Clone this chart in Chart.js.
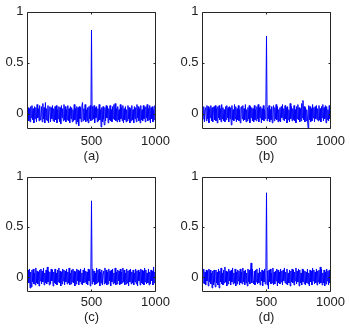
<!DOCTYPE html>
<html>
<head>
<meta charset="utf-8">
<script src="https://cdn.jsdelivr.net/npm/chart.js@4"></script>
<style>
  html, body { margin: 0; padding: 0; background: #fff; }
  #wrap { position: relative; width: 350px; height: 330px; }
  #wrap canvas { position: absolute; }
</style>
</head>
<body>
<div id="wrap">
  <canvas id="plotA" width="175" height="165" style="left:0;top:0"></canvas>
  <canvas id="plotB" width="175" height="165" style="left:175px;top:0"></canvas>
  <canvas id="plotC" width="175" height="165" style="left:0;top:165px"></canvas>
  <canvas id="plotD" width="175" height="165" style="left:175px;top:165px"></canvas>
</div>
<script>
// one sample every 5 steps, 200 samples per signal (5..1000), peak at 500
let sampleStep = 5;

let xTicks = [500, 1000];
let yTicks = [0, 0.5, 1];

let captions = ["(a)", "(b)", "(c)", "(d)"];

let signalA = [
    .06,-.07,.05,-.08,.07,-.04,.08,-.06,.05,-.09,.07,-.05,.06,-.08,.09,-.04,.05,-.07,.08,-.06,
    -.04,.07,-.08,.1,-.05,.06,-.09,.11,-.06,.05,-.07,.08,-.09,.04,.07,-.08,.06,-.05,.08,-.07,
    .05,-.08,.07,-.06,.08,-.09,.04,-.05,.07,-.08,.06,-.1,.08,-.04,.05,-.07,.09,-.06,.07,-.08,
    .04,-.06,.08,-.07,.05,-.09,.07,-.05,.06,-.08,.04,-.07,.09,-.06,.05,-.1,.07,-.08,.06,-.12,
    .07,-.05,.06,-.08,.08,.11,-.07,.05,-.06,.09,-.08,.04,-.07,.06,-.09,.07,-.05,.08,-.07,.82,
    -.06,.07,-.05,.08,-.09,.06,-.04,.07,-.08,.05,-.07,.09,-.06,.04,-.13,.06,-.08,.07,-.05,-.11,
    .06,-.07,.08,-.04,.07,-.09,.05,-.06,.08,-.07,.04,-.08,.07,-.05,.09,-.06,.1,-.07,.05,-.08,
    .07,-.06,.04,-.08,.09,-.05,.06,-.07,.08,-.09,.05,-.06,.07,-.08,.04,-.07,.08,-.05,.06,-.09,
    .05,-.07,.08,-.06,.04,-.09,.07,-.05,.06,-.08,.09,-.04,.07,-.07,.05,-.09,.08,-.06,.04,-.07,
    .08,-.05,.06,-.08,.07,-.04,.09,-.07,.05,-.06,.08,-.09,.06,-.05,.07,-.08,.04,-.06,.08,-.05
];

let signalB = [
    -.05,.07,-.08,.04,.06,-.07,.08,-.05,.07,-.09,.05,-.04,.08,-.07,.06,-.08,.04,.07,-.06,.08,
    -.07,.05,-.09,.07,-.04,.08,-.06,.05,-.08,.09,-.05,.06,-.07,.04,-.08,.07,-.06,.08,-.04,.06,
    -.08,.07,-.05,.06,-.11,.08,-.06,.04,-.07,.09,-.05,.07,-.08,.05,-.06,.08,-.07,.04,-.09,.06,
    .07,-.05,.08,-.07,.05,-.06,.09,-.08,.04,-.07,.06,-.05,.08,-.09,.07,-.04,.06,-.07,.05,-.08,
    .08,-.06,.04,-.07,.07,-.05,.09,-.08,.06,-.04,.07,-.09,.05,-.06,.08,-.07,.04,-.05,.07,.76,
    -.07,.06,-.05,.08,-.08,.04,-.06,.07,-.09,.05,.08,-.07,.06,-.05,.09,-.06,.07,-.08,.04,-.07,
    .06,-.08,.07,-.04,.09,-.06,.05,-.07,.08,-.05,.06,-.09,.07,-.06,.04,-.08,.1,-.05,.07,-.07,
    .05,-.06,.08,-.07,.04,-.09,.07,-.05,.09,-.06,.06,-.08,.05,-.07,.1,-.04,.13,-.06,.07,-.08,
    .06,-.07,.04,-.05,-.14,.08,-.06,.07,-.08,.05,-.07,.09,-.04,.06,-.08,.07,-.05,.08,-.06,.05,
    -.07,.08,-.06,.05,-.08,.07,-.04,.09,-.07,.06,-.05,.08,-.09,.07,-.06,.04,-.07,.08,-.05,.06
];

let signalC = [
    .07,-.06,.08,-.11,.05,-.1,.07,-.05,.08,-.07,.04,-.08,.09,-.06,.06,-.07,.05,-.09,.07,-.04,
    .08,-.07,.06,-.05,.09,-.08,.04,-.06,.07,-.07,.1,-.05,.06,-.08,.05,-.07,.08,-.04,.07,-.09,
    .05,-.06,.08,-.07,.04,-.08,.07,-.05,.09,-.06,.06,-.09,.05,-.07,.08,-.04,.07,-.08,.06,-.05,
    .08,-.07,.05,-.06,.09,-.08,.04,-.07,.07,-.05,.08,-.06,.06,-.09,.05,-.07,.08,-.04,.07,-.08,
    .06,-.05,.08,-.07,.04,-.08,.07,-.06,.09,-.05,.06,-.07,.05,-.08,.08,-.04,.07,-.09,.06,.76,
    -.07,.08,-.05,.06,-.08,.04,-.07,.09,-.06,.07,-.05,.08,-.09,.05,-.06,.07,-.08,.04,.06,-.07,
    .09,-.06,.07,-.08,.05,-.07,.08,-.04,.06,-.09,.07,-.05,.08,-.07,.04,-.06,.09,-.08,.05,-.07,
    .07,-.04,.06,-.08,.08,-.07,.05,-.06,.09,-.05,.07,-.08,.04,-.07,.08,-.06,.06,-.09,.07,-.05,
    .08,-.07,.05,-.06,.07,-.08,.04,-.05,.08,-.07,.06,-.09,.07,-.04,.05,-.08,.08,-.06,.07,-.07,
    .06,-.08,.09,-.05,.07,-.07,.04,-.06,.08,-.08,.05,-.07,.07,-.04,.06,-.08,.1,-.06,.05,-.07
];

let signalD = [
    -.06,.08,-.07,.05,-.08,.07,-.04,.06,-.09,.08,-.05,.07,-.07,.04,-.11,.06,-.08,.07,-.05,-.1,
    .07,-.06,.05,-.08,.08,-.11,.06,-.05,.09,-.07,.04,-.08,.07,-.06,.1,-.05,.06,-.09,.05,-.07,
    .08,-.04,.06,-.08,.07,-.05,.09,-.07,.04,-.06,.08,-.09,.05,-.07,.07,-.04,.06,-.08,.08,-.06,
    .05,-.07,.09,-.05,.06,-.08,.07,-.06,.04,-.09,.08,-.05,.07,-.07,.05,.14,-.06,.08,-.04,-.07,
    .06,-.08,.07,-.05,.08,-.07,.04,-.06,.09,-.08,.05,-.04,.07,-.09,.06,-.05,.08,-.07,.04,.84,
    -.08,.06,-.12,.07,-.05,.08,-.07,.04,-.06,.09,-.08,.05,-.07,.06,-.04,.08,-.09,.07,-.06,.05,
    -.07,.08,-.05,.06,-.08,.07,-.04,.09,-.06,.05,-.07,.08,-.08,.04,-.06,.07,-.09,.06,-.05,.08,
    -.06,.07,-.08,.05,-.04,.09,-.07,.06,-.05,.08,-.09,.07,-.06,.04,-.08,.08,-.05,.07,-.07,.06,
    -.08,.05,-.06,.08,-.07,.04,-.09,.07,-.05,.06,-.08,.09,-.04,.07,-.07,.05,-.06,.08,-.08,.06,
    -.05,.07,-.07,.1,-.06,.08,-.08,.04,-.06,.07,-.09,.05,-.07,.08,-.04,.06,-.08,.07,-.06,.08
];

let signals = [signalA, signalB, signalC, signalD];

// top row and bottom row differ slightly in spacing
let rowLayout = [
    { axisHeight: 36, tickPad: 5, titlePad: 1 },
    { axisHeight: 38, tickPad: 3, titlePad: 5 }
];

// matlab style frame: box round the plot area with short inward ticks
let boxPlugin = {
    id: "box",
    afterDraw(chart){
        let ctx = chart.ctx;
        let a = chart.chartArea;
        let x = chart.scales.x;
        let y = chart.scales.y;
        let t = 2;

        let left = Math.floor(a.left) + 0.5;
        let right = Math.floor(a.right) + 0.5;
        let top = Math.round(a.top) + 0.5;
        let bottom = Math.round(a.bottom) - 0.5;

        ctx.save();
        ctx.strokeStyle = "#262626";
        ctx.lineWidth = 1;
        ctx.beginPath();

        ctx.rect(left, top, right - left, bottom - top);

        for(let i = 0; i < yTicks.length; i++){
            let py = Math.round(y.getPixelForValue(yTicks[i])) + 0.5;
            ctx.moveTo(left, py);
            ctx.lineTo(left + t, py);
            ctx.moveTo(right, py);
            ctx.lineTo(right - t, py);
        }

        for(let i = 0; i < xTicks.length; i++){
            let px = Math.floor(x.getPixelForValue(xTicks[i])) + 0.5;
            ctx.moveTo(px, bottom);
            ctx.lineTo(px, bottom - t);
            ctx.moveTo(px, top);
            ctx.lineTo(px, top + t);
        }

        ctx.stroke();
        ctx.restore();
    }
};

let font = { family: "'Liberation Sans', Arial, sans-serif", size: 13 };

function createPlot(id, values, caption, row){

    let ctx = document.getElementById(id).getContext("2d");
    let lay = rowLayout[row];

    return new Chart(ctx, {
        type: 'line',
        data: {
            datasets: [{
                data: values.map((v, i) => ({ x: (i + 1) * sampleStep, y: v })),
                borderColor: '#0000ff',
                borderWidth: 1,
                pointRadius: 0,
                tension: 0,
                fill: false
            }]
        },
        options: {
            responsive: false,
            animation: false,
            events: [],
            // half pixel offsets keep the peak on a single pixel column
            layout: { padding: { top: 9, right: 19.5, bottom: 0, left: 0 } },
            plugins: {
                legend: { display: false },
                tooltip: { enabled: false }
            },
            scales: {
                x: {
                    type: 'linear',
                    min: 0,
                    max: 1000,
                    grid: { display: false, drawTicks: false },
                    border: { display: false },
                    afterBuildTicks: s => { s.ticks = xTicks.map(v => ({ value: v })); },
                    afterFit: s => { s.height = lay.axisHeight; },
                    ticks: {
                        font: font,
                        color: '#222',
                        padding: lay.tickPad,
                        maxRotation: 0,
                        callback: v => String(v)
                    },
                    title: {
                        display: true,
                        text: caption,
                        font: font,
                        color: '#222',
                        padding: { top: 0, bottom: lay.titlePad }
                    }
                },
                y: {
                    min: -0.15,
                    max: 1,
                    grid: { display: false, drawTicks: false },
                    border: { display: false },
                    afterBuildTicks: s => { s.ticks = yTicks.map(v => ({ value: v })); },
                    afterFit: s => { s.width = 27.5; },
                    ticks: {
                        font: font,
                        color: '#222',
                        padding: 4,
                        callback: v => String(v)
                    }
                }
            }
        },
        plugins: [boxPlugin]
    });
}

createPlot("plotA", signals[0], captions[0], 0);
createPlot("plotB", signals[1], captions[1], 0);
createPlot("plotC", signals[2], captions[2], 1);
createPlot("plotD", signals[3], captions[3], 1);
</script>
</body>
</html>
